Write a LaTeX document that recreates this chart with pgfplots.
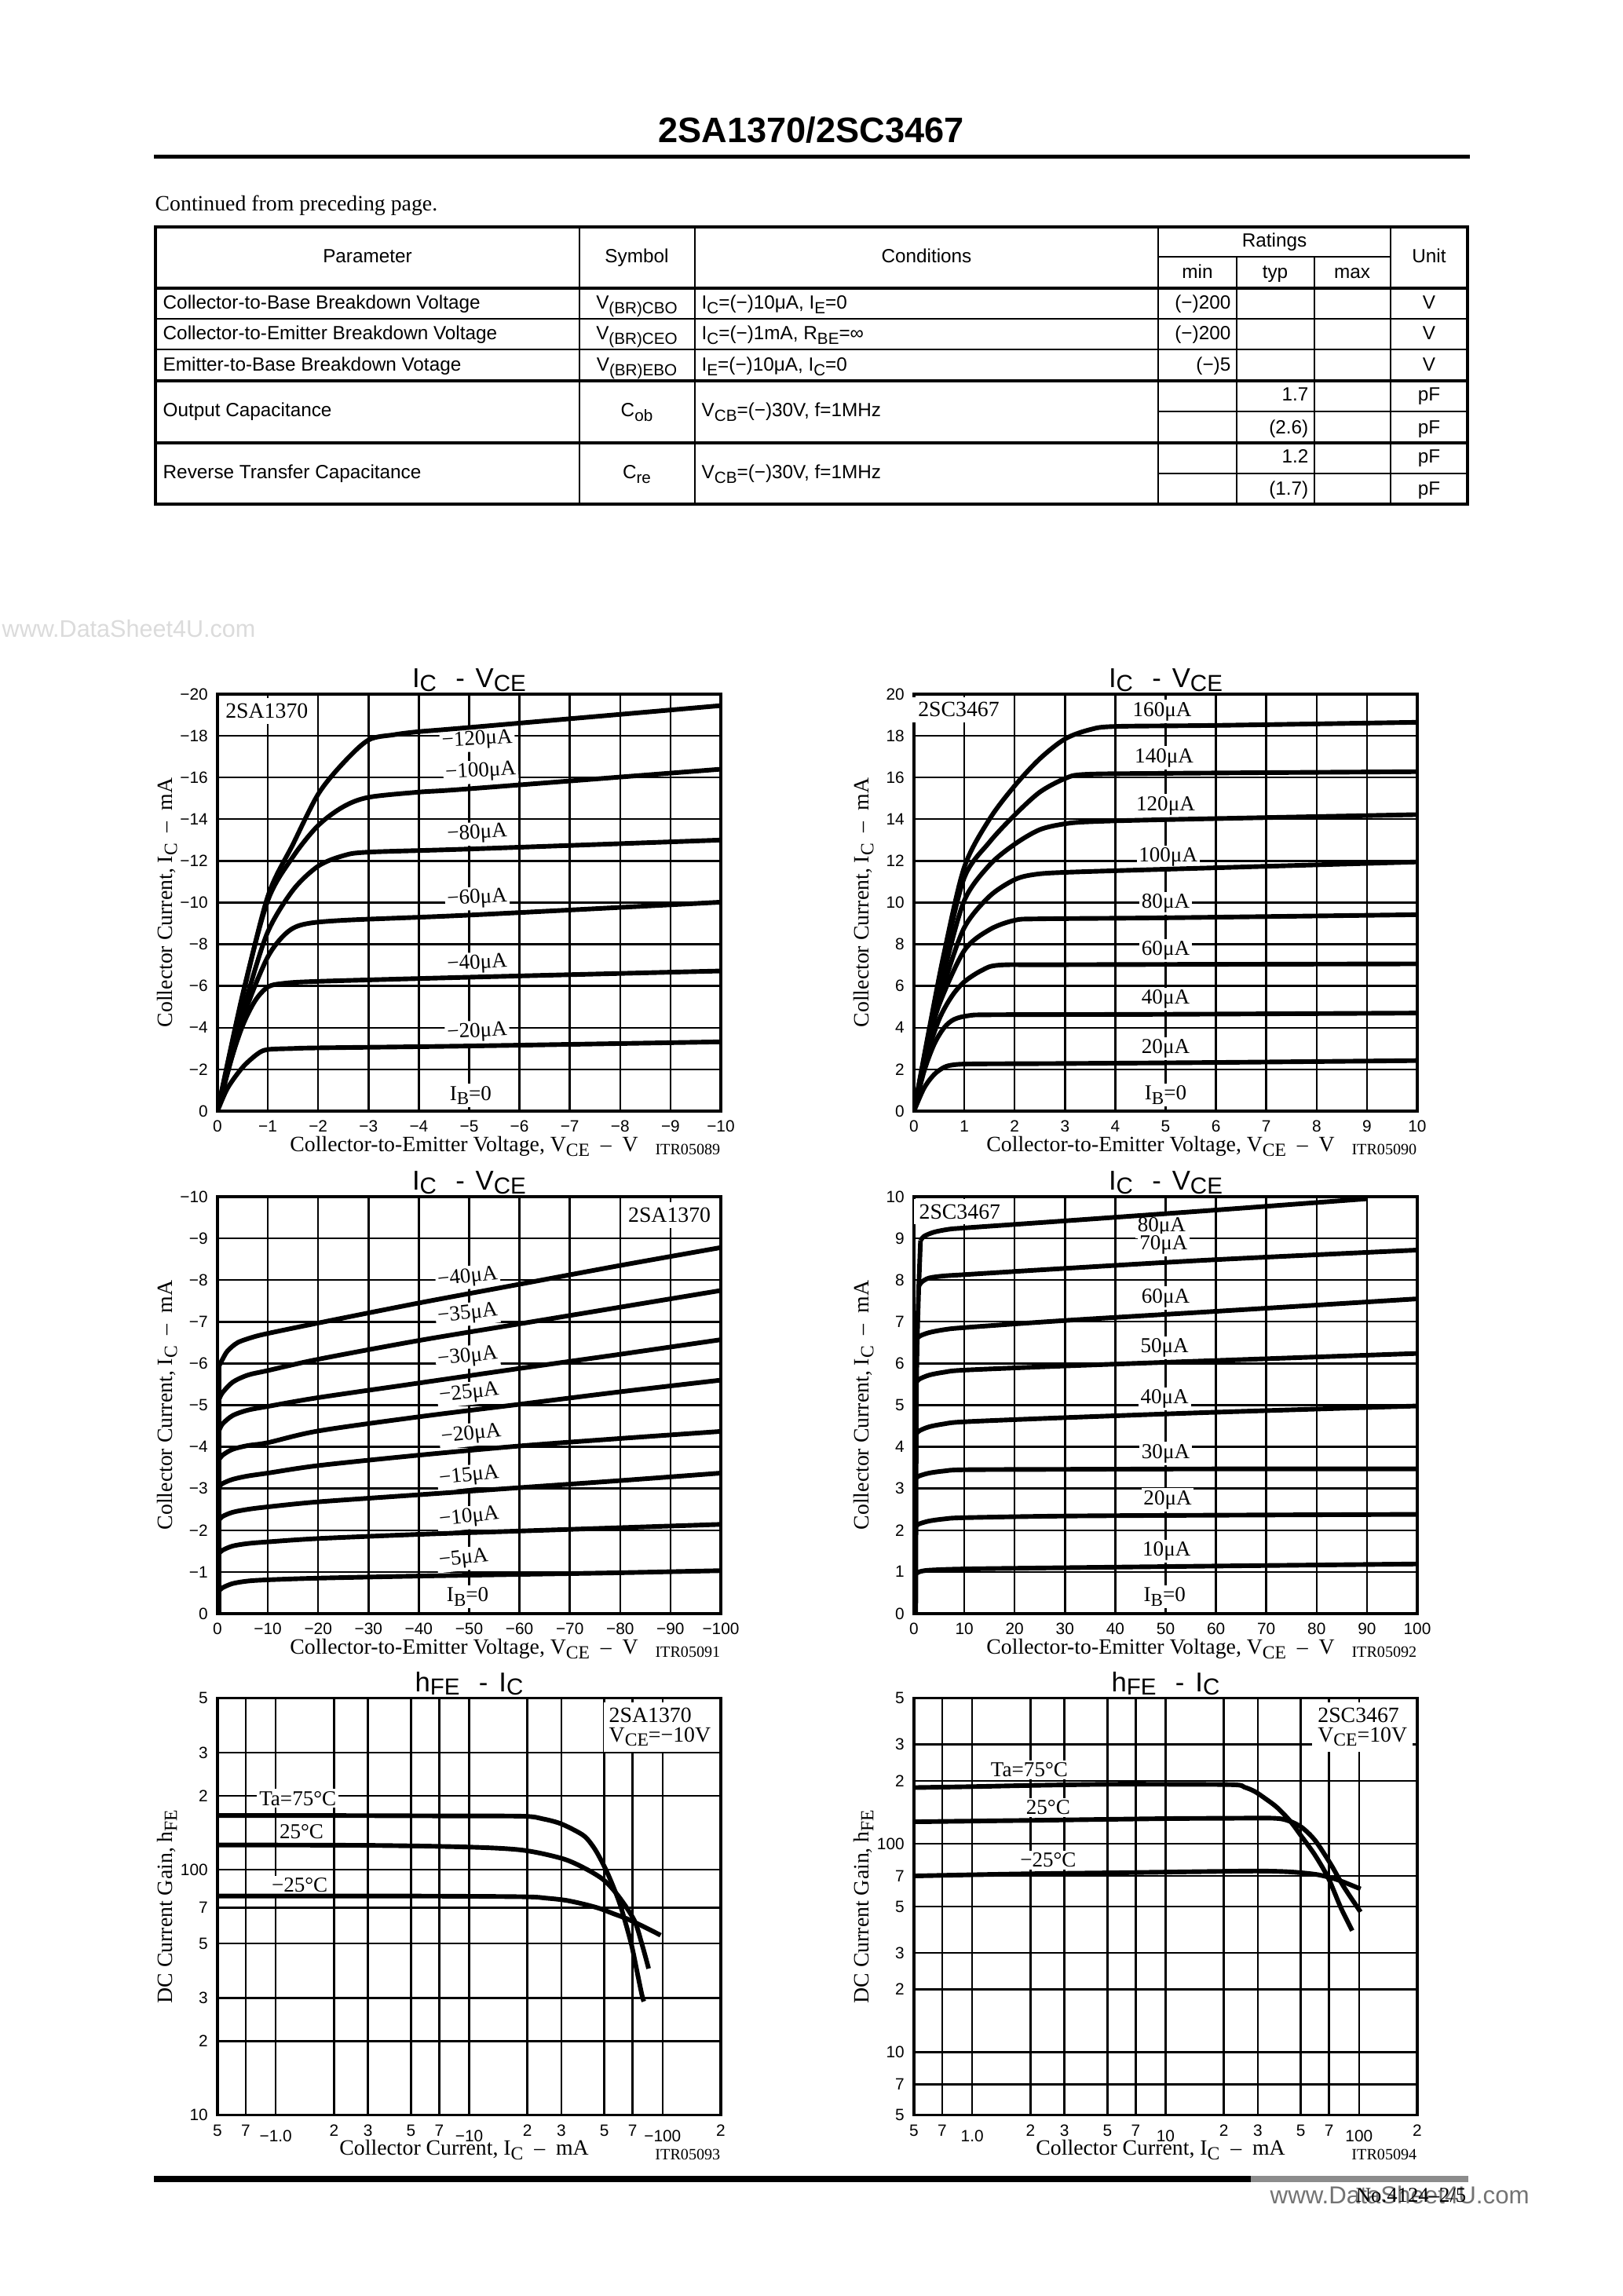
\documentclass[border=0pt]{standalone}
\usepackage{fontspec}
\setmainfont{Liberation Serif}
\setsansfont{Liberation Sans}
\usepackage{graphicx}
\usepackage{pgfplots}
\pgfplotsset{compat=1.18}

\newcommand\fsz[1]{\fontsize{#1}{#1}\selectfont}
\newcommand\sbs[1]{\raisebox{-0.45ex}{\scalebox{0.85}{#1}}}
\newcommand\tsb[1]{\raisebox{-0.25ex}{\scalebox{0.85}{#1}}}
\newcommand\lw[1]{\raisebox{-2pt}[\height][0pt]{#1}}

\pgfplotsset{
  ds/.style={
    scale only axis, width=184.6pt, height=152.9pt, anchor=north west,
    clip mode=individual,
    axis line style={line width=1.1pt},
    grid=major, major grid style={line width=0.7pt, black},
    major tick length=0pt, minor tick num=0,
    tick label style={font=\sffamily\fsz{6}},
    label style={font=\fsz{8}},
    title style={font=\sffamily\fsz{10}, at={(axis description cs:0.5,1)}, anchor=base, yshift=-3.6pt},
    xlabel style={at={(axis description cs:0.49,0)}, anchor=base, yshift=-14.8pt},
    ylabel style={at={(axis description cs:-0.1,0.5)}, anchor=center},
  },
}
\tikzset{
  cv/.style={black, line width=1.7pt, smooth, tension=0.5, line join=round},
  cvs/.style={black, line width=1.7pt, line join=round},
  lbl/.style={fill=white, inner sep=0.8pt, font=\fsz{7.8}},
  itr/.style={anchor=base east, inner sep=0pt, font=\fsz{5.8}, yshift=-16pt},
}

\begin{document}
\begin{tikzpicture}
\path[use as bounding box, fill=white] (0pt,0pt) rectangle (595.01pt,-842.11pt);

\begin{scope}[x=0.288pt,y=-0.288pt]
  % page head
  \node[anchor=base, inner sep=0pt, font=\sffamily\bfseries\fsz{13}] at (1033,182) {2SA1370/2SC3467};
  \fill (196,197) rectangle (1872,202);
  \node[anchor=base west, inner sep=0pt, font=\fsz{8}] at (197,269) {Continued from preceding page.};
  \node[anchor=base west, inner sep=0pt, text=black!14, font=\sffamily\fsz{8.8}] at (2,812) {www.DataSheet4U.com};

  % table
  \draw[line width=1pt] (198,289) rectangle (1869,642);
  \foreach \r in {367,485,564} \draw[line width=1.1pt] (198,\r) -- (1869,\r);
  \foreach \r in {406,445} \draw[line width=0.7pt] (198,\r) -- (1869,\r);
  \draw[line width=0.7pt] (1475,327) -- (1771,327);
  \foreach \r in {524,603} \draw[line width=0.7pt] (1475,\r) -- (1869,\r);
  \foreach \c in {738,885,1475,1771} \draw[line width=0.7pt] (\c,289) -- (\c,642);
  \foreach \c in {1575,1674} \draw[line width=0.7pt] (\c,327) -- (\c,642);

  \begin{scope}[every node/.style={inner sep=0pt, font=\sffamily\fsz{7}}]
    \node[anchor=base] at (468,335) {Parameter};
    \node[anchor=base] at (811,335) {Symbol};
    \node[anchor=base] at (1180,335) {Conditions};
    \node[anchor=base] at (1623,315) {Ratings};
    \node[anchor=base] at (1525,355) {min};
    \node[anchor=base] at (1624,355) {typ};
    \node[anchor=base] at (1722,355) {max};
    \node[anchor=base] at (1820,335) {Unit};

    \node[anchor=base west] at (207,394) {Collector-to-Base Breakdown Voltage};
    \node[anchor=base west] at (207,433) {Collector-to-Emitter Breakdown Voltage};
    \node[anchor=base west] at (207,473) {Emitter-to-Base Breakdown Votage};
    \node[anchor=base west] at (207,531) {Output Capacitance};
    \node[anchor=base west] at (207,610) {Reverse Transfer Capacitance};

    \node[anchor=base] at (811,394) {V\sbs{(BR)CBO}};
    \node[anchor=base] at (811,433) {V\sbs{(BR)CEO}};
    \node[anchor=base] at (811,473) {V\sbs{(BR)EBO}};
    \node[anchor=base] at (811,531) {C\sbs{ob}};
    \node[anchor=base] at (811,610) {C\sbs{re}};

    \node[anchor=base west] at (893,394) {I\sbs{C}=(−)10μA, I\sbs{E}=0};
    \node[anchor=base west] at (893,433) {I\sbs{C}=(−)1mA, R\sbs{BE}=∞};
    \node[anchor=base west] at (893,473) {I\sbs{E}=(−)10μA, I\sbs{C}=0};
    \node[anchor=base west] at (893,531) {V\sbs{CB}=(−)30V, f=1MHz};
    \node[anchor=base west] at (893,610) {V\sbs{CB}=(−)30V, f=1MHz};

    \node[anchor=base east] at (1568,394) {(−)200};
    \node[anchor=base east] at (1568,433) {(−)200};
    \node[anchor=base east] at (1568,473) {(−)5};
    \node[anchor=base east] at (1667,511) {1.7};
    \node[anchor=base east] at (1667,553) {(2.6)};
    \node[anchor=base east] at (1667,590) {1.2};
    \node[anchor=base east] at (1667,631) {(1.7)};

    \foreach \r in {394,433,473} \node[anchor=base] at (1820,\r) {V};
    \foreach \r in {511,553,590,631} \node[anchor=base] at (1820,\r) {pF};
  \end{scope}

  % page foot
  \fill (196,2771) rectangle (1593,2779);
  \fill[black!45] (1593,2771) rectangle (1870,2779);
  \node[anchor=base west, inner sep=0pt, text=black!55, font=\sffamily\fsz{9}] at (1617,2807) {www.DataSheet4U.com};
  \node[anchor=base east, inner sep=0pt, font=\fsz{7.7}] at (1868,2805) {No.4124–2/5};
\end{scope}

% ---------- 2SA1370  IC - VCE  (0 .. -10 V)
\begin{axis}[ds, at={(79.78pt,-254.59pt)},
  x dir=reverse, y dir=reverse,
  xmin=-10, xmax=0, ymin=-20, ymax=0,
  xtick={0,-1,...,-10}, xticklabels={0,−1,−2,−3,−4,−5,−6,−7,−8,−9,−10},
  ytick={0,-2,...,-20}, yticklabels={0,−2,−4,−6,−8,−10,−12,−14,−16,−18,−20},
  title={I\tsb{C}\hspace{7pt}-\hspace{4pt}V\tsb{CE}},
  xlabel={Collector-to-Emitter Voltage, V\sbs{CE}\ \ –\ \ V},
  ylabel={Collector Current, I\sbs{C}\ \ –\ \ mA}]
  \node[lbl, inner sep=2pt, font=\fsz{8}] at (axis cs:-0.98,-19.2) {2SA1370};
  \node[lbl, rotate=3] at (axis cs:-5.16,-17.8) {−120μA};
  \node[lbl, rotate=3] at (axis cs:-5.23,-16.27) {−100μA};
  \node[lbl, rotate=3] at (axis cs:-5.16,-13.3) {−80μA};
  \node[lbl, rotate=3] at (axis cs:-5.16,-10.2) {−60μA};
  \node[lbl, rotate=3] at (axis cs:-5.16,-7.06) {−40μA};
  \node[lbl, rotate=3] at (axis cs:-5.16,-3.78) {−20μA};
  \node[lbl] at (axis cs:-5.03,-0.75) {I\sbs{B}=0};
  \addplot[cv] coordinates {(0,0) (-0.2,-1.1) (-0.5,-2.1) (-0.8,-2.75) (-1.0,-2.95) (-1.5,-3.0) (-2,-3.03) (-5,-3.12) (-10,-3.32)};
  \addplot[cv] coordinates {(0,0) (-0.25,-2.3) (-0.5,-4.1) (-0.75,-5.3) (-1.0,-5.95) (-1.3,-6.12) (-2,-6.22) (-5,-6.42) (-10,-6.72)};
  \addplot[cv] coordinates {(0,0) (-0.3,-2.7) (-0.6,-5.1) (-1.0,-7.4) (-1.35,-8.5) (-1.7,-8.95) (-2.5,-9.15) (-5,-9.4) (-10,-10.02)};
  \addplot[cv] coordinates {(0,0) (-0.3,-2.9) (-0.6,-5.6) (-1.0,-8.6) (-1.5,-10.6) (-2,-11.75) (-2.5,-12.25) (-3,-12.42) (-5,-12.57) (-10,-13.0)};
  \addplot[cv] coordinates {(0,0) (-0.5,-5.6) (-1,-10.1) (-1.5,-12.2) (-2,-13.7) (-2.5,-14.6) (-3,-15.05) (-4,-15.3) (-5,-15.46) (-10,-16.4)};
  \addplot[cv] coordinates {(0,0) (-0.5,-5.5) (-1,-10.3) (-1.5,-12.8) (-2,-15.2) (-2.5,-16.7) (-3,-17.8) (-3.5,-18.05) (-4,-18.2) (-5,-18.4) (-10,-19.45)};
  \node[itr] at (axis description cs:1,0) {ITR05089};
\end{axis}

% ---------- 2SC3467  IC - VCE  (0 .. 10 V)
\begin{axis}[ds, at={(335.23pt,-254.59pt)},
  xmin=0, xmax=10, ymin=0, ymax=20,
  xtick={0,1,...,10}, ytick={0,2,...,20},
  xticklabels={0,1,2,3,4,5,6,7,8,9,10},
  yticklabels={0,2,4,6,8,10,12,14,16,18,20},
  title={I\tsb{C}\hspace{7pt}-\hspace{4pt}V\tsb{CE}},
  xlabel={Collector-to-Emitter Voltage, V\sbs{CE}\ \ –\ \ V},
  ylabel={Collector Current, I\sbs{C}\ \ –\ \ mA}]
  \node[lbl, inner sep=2pt, font=\fsz{8}] at (axis cs:0.89,19.25) {2SC3467};
  \node[lbl] at (axis cs:4.93,19.17) {160μA};
  \node[lbl] at (axis cs:4.97,16.95) {140μA};
  \node[lbl] at (axis cs:5.0,14.65) {120μA};
  \node[lbl] at (axis cs:5.05,12.19) {100μA};
  \node[lbl] at (axis cs:5.0,9.97) {80μA};
  \node[lbl] at (axis cs:5.0,7.7) {60μA};
  \node[lbl] at (axis cs:5.0,5.37) {40μA};
  \node[lbl] at (axis cs:5.0,2.98) {20μA};
  \node[lbl] at (axis cs:5.0,0.76) {I\sbs{B}=0};
  \addplot[cv] coordinates {(0,0) (0.2,1.1) (0.4,1.75) (0.6,2.1) (0.8,2.22) (1.2,2.26) (3,2.28) (6,2.33) (10,2.42)};
  \addplot[cv] coordinates {(0,0) (0.2,1.9) (0.4,3.2) (0.6,4.0) (0.8,4.4) (1.1,4.58) (1.6,4.62) (5,4.64) (10,4.7)};
  \addplot[cv] coordinates {(0,0) (0.25,2.6) (0.5,4.4) (0.75,5.5) (1,6.2) (1.35,6.75) (1.7,7.0) (3,7.02) (10,7.06)};
  \addplot[cv] coordinates {(0,0) (0.25,2.9) (0.5,5.1) (1,7.7) (1.5,8.7) (2,9.15) (2.5,9.22) (5,9.27) (10,9.42)};
  \addplot[cv] coordinates {(0,0) (0.3,3.4) (0.6,6.1) (1,8.8) (1.5,10.3) (2,11.1) (2.4,11.35) (3,11.45) (5,11.6) (10,11.95)};
  \addplot[cv] coordinates {(0,0) (0.3,3.6) (0.6,6.7) (1,10.1) (1.5,11.8) (2,12.8) (2.5,13.5) (3,13.78) (3.5,13.88) (5,13.98) (10,14.22)};
  \addplot[cv] coordinates {(0,0) (0.3,3.8) (0.6,7.3) (1,11.2) (1.5,12.9) (2,14.2) (2.5,15.3) (3,15.95) (3.4,16.15) (5,16.2) (10,16.28)};
  \addplot[cv] coordinates {(0,0) (0.3,3.9) (0.6,7.6) (1,11.7) (1.5,14.0) (2,15.6) (2.5,16.9) (3,17.85) (3.5,18.3) (4,18.45) (6,18.5) (10,18.65)};
  \node[itr] at (axis description cs:1,0) {ITR05090};
\end{axis}

% ---------- 2SA1370  IC - VCE  (0 .. -100 V)
\begin{axis}[ds, at={(79.78pt,-438.91pt)},
  x dir=reverse, y dir=reverse,
  xmin=-100, xmax=0, ymin=-10, ymax=0,
  xtick={0,-10,...,-100}, xticklabels={0,−10,−20,−30,−40,−50,−60,−70,−80,−90,−100},
  ytick={0,-1,...,-10}, yticklabels={0,−1,−2,−3,−4,−5,−6,−7,−8,−9,−10},
  title={I\tsb{C}\hspace{7pt}-\hspace{4pt}V\tsb{CE}},
  xlabel={Collector-to-Emitter Voltage, V\sbs{CE}\ \ –\ \ V},
  ylabel={Collector Current, I\sbs{C}\ \ –\ \ mA}]
  \node[lbl, inner sep=2pt, font=\fsz{8}] at (axis cs:-89.8,-9.56) {2SA1370};
  \node[lbl, rotate=6] at (axis cs:-49.7,-8.06) {−40μA};
  \node[lbl, rotate=6] at (axis cs:-49.7,-7.18) {−35μA};
  \node[lbl, rotate=6] at (axis cs:-49.7,-6.15) {−30μA};
  \node[lbl, rotate=6] at (axis cs:-50.0,-5.28) {−25μA};
  \node[lbl, rotate=6] at (axis cs:-50.4,-4.29) {−20μA};
  \node[lbl, rotate=6] at (axis cs:-50.0,-3.29) {−15μA};
  \node[lbl, rotate=6] at (axis cs:-50.0,-2.3) {−10μA};
  \node[lbl, rotate=6] at (axis cs:-48.9,-1.31) {−5μA};
  \node[lbl] at (axis cs:-49.7,-0.4) {I\sbs{B}=0};
  \addplot[cvs] coordinates {(-0.35,0) (-0.35,-5.95)};
  \addplot[cv] coordinates {(-0.35,-0.55) (-1,-0.62) (-3,-0.72) (-6,-0.78) (-10,-0.81) (-20,-0.85) (-40,-0.9) (-60,-0.94) (-80,-0.98) (-100,-1.03)};
  \addplot[cv] coordinates {(-0.35,-1.45) (-1,-1.52) (-3,-1.62) (-6,-1.68) (-10,-1.72) (-20,-1.8) (-40,-1.9) (-60,-1.98) (-80,-2.06) (-100,-2.14)};
  \addplot[cv] coordinates {(-0.35,-2.25) (-1,-2.33) (-3,-2.43) (-6,-2.5) (-10,-2.56) (-20,-2.68) (-40,-2.85) (-60,-3.02) (-80,-3.19) (-100,-3.37)};
  \addplot[cv] coordinates {(-0.35,-3.05) (-1,-3.12) (-3,-3.22) (-6,-3.3) (-10,-3.37) (-20,-3.55) (-40,-3.8) (-60,-4.02) (-80,-4.2) (-100,-4.37)};
  \addplot[cv] coordinates {(-0.35,-3.7) (-1,-3.8) (-3,-3.94) (-6,-4.03) (-10,-4.1) (-20,-4.38) (-40,-4.72) (-60,-5.02) (-80,-5.32) (-100,-5.6)};
  \addplot[cv] coordinates {(-0.35,-4.4) (-1,-4.55) (-3,-4.75) (-6,-4.88) (-10,-4.97) (-20,-5.18) (-40,-5.53) (-60,-5.88) (-80,-6.22) (-100,-6.57)};
  \addplot[cv] coordinates {(-0.35,-5.15) (-1,-5.3) (-3,-5.55) (-6,-5.72) (-10,-5.83) (-20,-6.1) (-40,-6.55) (-60,-6.95) (-80,-7.35) (-100,-7.75)};
  \addplot[cv] coordinates {(-0.35,-5.95) (-1,-6.1) (-2,-6.3) (-4,-6.5) (-7,-6.63) (-10,-6.72) (-20,-6.97) (-40,-7.45) (-60,-7.9) (-80,-8.35) (-100,-8.78)};
  \node[itr] at (axis description cs:1,0) {ITR05091};
\end{axis}

% ---------- 2SC3467  IC - VCE  (0 .. 100 V)
\begin{axis}[ds, at={(335.23pt,-438.91pt)},
  xmin=0, xmax=100, ymin=0, ymax=10,
  xtick={0,10,...,100}, ytick={0,1,...,10},
  xticklabels={0,10,20,30,40,50,60,70,80,90,100},
  yticklabels={0,1,2,3,4,5,6,7,8,9,10},
  title={I\tsb{C}\hspace{7pt}-\hspace{4pt}V\tsb{CE}},
  xlabel={Collector-to-Emitter Voltage, V\sbs{CE}\ \ –\ \ V},
  ylabel={Collector Current, I\sbs{C}\ \ –\ \ mA}]
  \node[lbl, inner sep=2pt, font=\fsz{8}] at (axis cs:9.1,9.64) {2SC3467};
  \node[lbl] at (axis cs:49.2,9.27) {80μA};
  \node[lbl] at (axis cs:49.6,8.84) {70μA};
  \node[lbl] at (axis cs:50.0,7.57) {60μA};
  \node[lbl] at (axis cs:49.8,6.38) {50μA};
  \node[lbl] at (axis cs:49.8,5.15) {40μA};
  \node[lbl] at (axis cs:50.0,3.84) {30μA};
  \node[lbl] at (axis cs:50.4,2.73) {20μA};
  \node[lbl] at (axis cs:50.2,1.5) {10μA};
  \node[lbl] at (axis cs:49.8,0.4) {I\sbs{B}=0};
  \addplot[cvs] coordinates {(0.35,0) (0.4,2.1) (0.45,4.3) (0.5,5.55) (0.65,6.6) (0.95,7.85) (1.3,8.95)};
  \addplot[cv] coordinates {(0.4,0.95) (1,1.0) (3,1.04) (10,1.07) (30,1.1) (60,1.14) (100,1.19)};
  \addplot[cv] coordinates {(0.4,2.1) (1,2.15) (3,2.22) (6,2.27) (10,2.3) (30,2.34) (60,2.36) (100,2.38)};
  \addplot[cv] coordinates {(0.4,3.25) (1,3.3) (3,3.37) (6,3.42) (10,3.45) (30,3.46) (60,3.47) (100,3.47)};
  \addplot[cv] coordinates {(0.45,4.3) (1,4.38) (3,4.48) (6,4.55) (10,4.6) (30,4.7) (60,4.83) (100,4.98)};
  \addplot[cv] coordinates {(0.5,5.55) (1,5.62) (3,5.72) (6,5.79) (10,5.84) (30,5.94) (60,6.07) (100,6.24)};
  \addplot[cv] coordinates {(0.65,6.6) (1.2,6.66) (3,6.74) (6,6.81) (10,6.86) (30,7.03) (60,7.25) (100,7.55)};
  \addplot[cv] coordinates {(0.95,7.85) (1.5,7.95) (3,8.05) (6,8.1) (10,8.13) (30,8.28) (60,8.49) (100,8.72)};
  \addplot[cv] coordinates {(1.3,8.95) (2,9.05) (4,9.15) (7,9.22) (10,9.25) (30,9.42) (60,9.68) (90,9.95)};
  \node[itr] at (axis description cs:1,0) {ITR05092};
\end{axis}

% ---------- 2SA1370  hFE - IC
\begin{axis}[ds, at={(79.78pt,-622.8pt)},
  xmode=log, ymode=log,
  xmin=0.5, xmax=200, ymin=10, ymax=500,
  xtick={0.5,0.7,1,2,3,5,7,10,20,30,50,70,100,200},
  xticklabels={5,7,\lw{−1.0},2,3,5,7,\lw{−10},2,3,5,7,\lw{−100},2},
  ytick={10,20,30,50,70,100,200,300,500},
  yticklabels={10,2,3,5,7,100,2,3,5},
  title={h\tsb{FE}\hspace{7pt}-\hspace{4pt}I\tsb{C}},
  xlabel={Collector Current, I\sbs{C}\ \ –\ \ mA},
  ylabel={DC Current Gain, h\sbs{FE}}]
  \node[lbl, inner sep=2pt, font=\fsz{8}, align=left, anchor=north east, xshift=-1.5pt, yshift=-1.5pt]
     at (axis description cs:1,1) {2SA1370\\[-1pt]V\sbs{CE}=−10V};
  \node[lbl] at (axis cs:1.30,195) {Ta=75°C};
  \node[lbl] at (axis cs:1.36,142.5) {25°C};
  \node[lbl] at (axis cs:1.33,86.3) {−25°C};
  \addplot[cv] coordinates {(0.5,166) (2,166) (7,165.5) (18.9,165) (24,161) (29,155) (34,146.5) (39.8,136) (45,120) (50.9,100) (56,84) (61,70) (68.8,50) (74,38) (78.1,31) (80,29)};
  \addplot[cv] coordinates {(0.5,126) (3,125.5) (10,123.5) (18.9,120) (30.3,110.9) (39.8,101) (49.8,90.5) (59.6,77.3) (71.4,62.1) (78.1,49.9) (84.7,39.5)};
  \addplot[cv] coordinates {(0.5,78) (5,78) (18.9,77.5) (25,76.5) (31.8,74.9) (40,72) (47.6,69.3) (56,66) (65.2,63.1) (80,58.5) (97.7,54)};
  \node[itr, yshift=-0.5pt] at (axis description cs:1,0) {ITR05093};
\end{axis}

% ---------- 2SC3467  hFE - IC
\begin{axis}[ds, at={(335.23pt,-622.8pt)},
  xmode=log, ymode=log,
  xmin=0.5, xmax=200, ymin=5, ymax=500,
  xtick={0.5,0.7,1,2,3,5,7,10,20,30,50,70,100,200},
  xticklabels={5,7,\lw{1.0},2,3,5,7,\lw{10},2,3,5,7,\lw{100},2},
  ytick={5,7,10,20,30,50,70,100,200,300,500},
  yticklabels={5,7,10,2,3,5,7,100,2,3,5},
  title={h\tsb{FE}\hspace{7pt}-\hspace{4pt}I\tsb{C}},
  xlabel={Collector Current, I\sbs{C}\ \ –\ \ mA},
  ylabel={DC Current Gain, h\sbs{FE}}]
  \node[lbl, inner sep=2pt, font=\fsz{8}, align=left, anchor=north east, xshift=-1.5pt, yshift=-1.5pt]
     at (axis description cs:1,1) {2SC3467\\[-1pt]V\sbs{CE}=10V};
  \node[lbl] at (axis cs:1.975,226) {Ta=75°C};
  \node[lbl] at (axis cs:2.47,149) {25°C};
  \node[lbl] at (axis cs:2.47,83.4) {−25°C};
  \addplot[cv] coordinates {(0.5,186) (1,188) (2,190.5) (4.97,193) (10,193) (22.5,192) (25.5,187) (28.8,178.5) (33,164) (37.8,149) (44.2,128) (50.6,108) (59.3,88) (69.4,68.4) (80.5,49.4) (92.2,38.3)};
  \addplot[cv] coordinates {(0.5,127.5) (2,129.5) (9.8,132) (20,132.5) (36.1,132.6) (43.3,128.8) (50.6,119.8) (59.3,103.7) (71,80.5) (83.1,62.5) (101.8,47.1)};
  \addplot[cv] coordinates {(0.5,70.1) (1,71) (2,71.8) (6.23,72.7) (15,73.5) (28.8,74) (40,73.6) (49.5,72.7) (62,70.9) (77.7,67.1) (101.8,60.7)};
  \node[itr, yshift=-0.5pt] at (axis description cs:1,0) {ITR05094};
\end{axis}
\end{tikzpicture}
\end{document}
